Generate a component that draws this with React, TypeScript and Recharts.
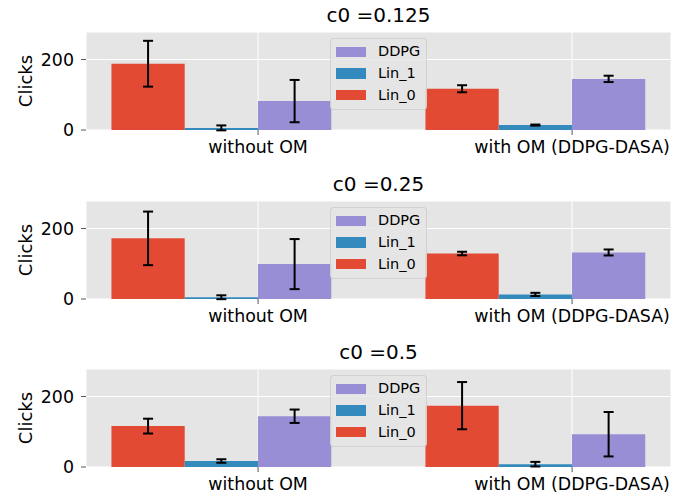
import React from 'react';
import { BarChart, Bar, XAxis, YAxis, CartesianGrid, ErrorBar, Legend, Label } from 'recharts';

// ---- data ----
const CATEGORIES = ['without OM', 'with OM (DDPG-DASA)'];
const C0_VALUES = ['0.125', '0.25', '0.5'];
const SERIES_NAMES = ['Lin_0', 'Lin_1', 'DDPG'];
const SERIES_COLORS = ['#E24A33', '#348ABD', '#988ED5'];

// [without OM, with OM] per subplot (c0 = 0.125, 0.25, 0.5)
const LIN0_MEAN = [[188, 117], [172, 129], [116, 174]];
const LIN0_ERR = [[65, 10], [76, 5], [21, 67]];
const LIN1_MEAN = [[6, 14], [5, 13], [17, 8]];
const LIN1_ERR = [[7, 1.5], [5.5, 4.5], [5, 6.5]];
const DDPG_MEAN = [[82, 145], [99, 132], [144, 93]];
const DDPG_ERR = [[60, 9], [71, 8.5], [19, 63]];

const Y_TICKS = [0, 200];
const Y_MAX = 278;

// layout constants
const BAR_W = 0.7 / 3; // bar width in category units
const X_DOMAIN = [-0.548, 1.315];
const PLOT_LEFT = 86;
const PLOT_RIGHT = 671;
const PLOT_W = PLOT_RIGHT - PLOT_LEFT;
const BAR_PX = (PLOT_W / (X_DOMAIN[1] - X_DOMAIN[0])) * BAR_W;
const CHART_H = 165;
const PLOT_TOP = 32;
const SUBPLOT_TOPS = [0, 169, 337];
const FONT = 'DejaVu Sans, sans-serif';
const TICK_FS = 17.4;

function buildData(k: number) {
  return CATEGORIES.map((c, i) => ({
    x: i - BAR_W / 2,
    lin0: LIN0_MEAN[k][i],
    lin0Err: LIN0_ERR[k][i],
    lin1: LIN1_MEAN[k][i],
    lin1Err: LIN1_ERR[k][i],
    ddpg: DDPG_MEAN[k][i],
    ddpgErr: DDPG_ERR[k][i],
  }));
}

const LegendBox = (props: any) => {
  const items = [...(props.payload || [])];
  items.sort((a: any, b: any) => SERIES_NAMES.indexOf(b.value) - SERIES_NAMES.indexOf(a.value));
  return (
    <div
      style={{
        width: 97,
        height: 72,
        boxSizing: 'border-box',
        border: '1px solid rgba(204,204,204,0.8)',
        borderRadius: 4,
        background: 'rgba(229,229,229,0.8)',
        paddingTop: 2,
        fontFamily: FONT,
        fontSize: 14.5,
        color: '#000',
      }}
    >
      {items.map((p: any) => (
        <div key={p.value} style={{ display: 'flex', alignItems: 'center', height: 21.7 }}>
          <div style={{ width: 30, height: 10.5, background: p.color, marginLeft: 5, marginRight: 12 }} />
          <span style={{ lineHeight: '15px' }}>{p.value}</span>
        </div>
      ))}
    </div>
  );
};

const YLabel = (props: any) => {
  const vb = props.viewBox || { y: PLOT_TOP, height: 98 };
  const cy = vb.y + vb.height / 2;
  const x = 31.5;
  return (
    <text x={x} y={cy} transform={`rotate(-90, ${x}, ${cy})`} textAnchor="middle" fontFamily={FONT} fontSize={18} fill="#000">
      Clicks
    </text>
  );
};

function Subplot({ k }: { k: number }) {
  const data = buildData(k);
  const keys = ['lin0', 'lin1', 'ddpg'];
  return (
    <div style={{ position: 'absolute', left: 0, top: SUBPLOT_TOPS[k], width: 693, height: CHART_H }}>
      <div
        style={{
          position: 'absolute',
          left: PLOT_LEFT,
          width: PLOT_W,
          top: 5,
          textAlign: 'center',
          fontFamily: FONT,
          fontSize: 20,
          lineHeight: '20px',
          color: '#000',
          whiteSpace: 'pre',
        }}
      >
        {`c0 =${C0_VALUES[k]}`}
      </div>
      <BarChart
        width={693}
        height={CHART_H}
        data={data}
        margin={{ top: PLOT_TOP, right: 693 - PLOT_RIGHT, left: 26, bottom: 5 }}
        barGap={0}
        barCategoryGap={0}
      >
        <CartesianGrid fill="#E5E5E5" stroke="#FFFFFF" strokeWidth={1} />
        <XAxis
          dataKey="x"
          type="number"
          domain={X_DOMAIN}
          ticks={[0, 1]}
          tickFormatter={(v: number) => CATEGORIES[Math.round(v)]}
          axisLine={false}
          tickLine={{ stroke: '#555555' }}
          tickSize={5}
          tickMargin={6}
          height={30}
          tick={{ fill: '#000', fontFamily: FONT, fontSize: TICK_FS }}
          interval={0}
          allowDataOverflow
        />
        <YAxis
          type="number"
          domain={[0, Y_MAX]}
          ticks={Y_TICKS}
          width={60}
          axisLine={false}
          tickLine={{ stroke: '#555555' }}
          tickSize={5}
          tickMargin={7}
          tick={{ fill: '#000', fontFamily: FONT, fontSize: TICK_FS }}
          allowDataOverflow
        >
          <Label content={<YLabel />} />
        </YAxis>
        <Legend
          layout="vertical"
          align="center"
          verticalAlign="middle"
          content={<LegendBox />}
          wrapperStyle={{ position: 'absolute', left: 330, top: PLOT_TOP + 6, width: 97, height: 72 }}
        />
        {keys.map((key, s) => (
          <Bar
            key={key}
            dataKey={key}
            name={SERIES_NAMES[s]}
            fill={SERIES_COLORS[s]}
            barSize={BAR_PX}
            isAnimationActive={false}
          >
            <ErrorBar dataKey={`${key}Err`} direction="y" width={5} stroke="#000" strokeWidth={2} />
          </Bar>
        ))}
      </BarChart>
    </div>
  );
}

export default function App() {
  return (
    <div style={{ position: 'absolute', left: 0, top: 0, width: 693, height: 502, background: '#fff', overflow: 'hidden' }}>
      {C0_VALUES.map((_, k) => (
        <Subplot key={k} k={k} />
      ))}
    </div>
  );
}
